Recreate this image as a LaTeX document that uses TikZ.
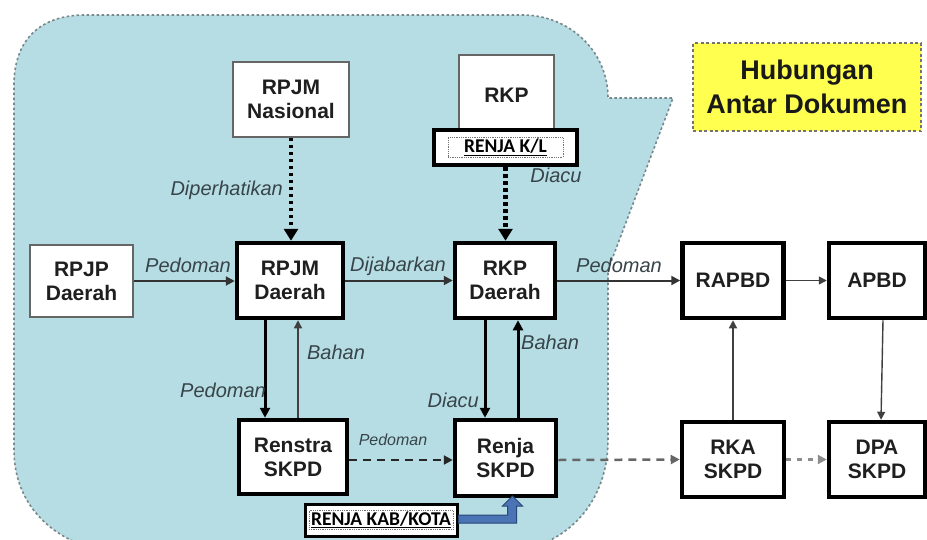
\documentclass[tikz,border=0pt]{standalone}
\usepackage{fontspec}
\setmainfont{Liberation Sans}
\newfontfamily\calib{Carlito}
\usetikzlibrary{arrows.meta,calc}
\definecolor{regionblue}{RGB}{182,221,227}
\definecolor{regionedge}{RGB}{120,135,140}
\definecolor{labelgray}{RGB}{55,68,74}
\definecolor{hubyellow}{RGB}{255,255,80}
\definecolor{arrowblue}{RGB}{74,116,180}
\definecolor{arrowblueedge}{RGB}{40,70,120}
\tikzset{
  boxtext/.style={font=\bfseries\fontsize{21}{24}\selectfont, text=black!88, align=center, inner sep=0pt},
  thinbox/.style={boxtext, draw=black!60, line width=1.8pt, fill=white},
  thickbox/.style={boxtext, draw=black, line width=4.5pt, fill=white},
  lbl/.style={font=\itshape\fontsize{20}{24}\selectfont, text=labelgray, inner sep=0pt},
  solidarr/.style={draw=black!80, line width=2pt, -{Triangle[length=9pt,width=9pt]}},
  thinarr/.style={draw=black!75, line width=1.4pt, -{Triangle[length=8pt,width=8pt]}},
  heavyarr/.style={draw=black, line width=3pt, -{Triangle[length=10pt,width=10pt]}},
  dotarr/.style={draw=black, line width=4.5pt, dash pattern=on 3.5pt off 3.5pt, -{Triangle[length=12pt,width=14pt]}},
  renjabox/.style={draw=black, line width=4pt, fill=white, inner sep=0pt},
  renjatext/.style={font=\calib\bfseries\fontsize{19.5}{22}\selectfont, draw=black!55, densely dotted, line width=0.8pt, inner xsep=2pt, inner ysep=1.5pt}
}
\begin{document}
\begin{tikzpicture}[x=1pt,y=-1pt]
\useasboundingbox (0,0) rectangle (927,539);
\fill[white] (0,0) rectangle (927,539);
\begin{scope}
\clip (0,0) rectangle (927,539);
\filldraw[fill=regionblue, draw=regionedge, line width=1.6pt, dash pattern=on 2.5pt off 2.5pt]
  (14,450) -- (14,85) .. controls (14,40) and (40,15) .. (85,15) -- (523,15)
  .. controls (568,15) and (608,50) .. (608,98) -- (673,98) -- (608,270) -- (608,440)
  .. controls (608,500) and (570,545) .. (510,552) -- (110,552)
  .. controls (60,545) and (14,510) .. (14,450) -- cycle;
\end{scope}

% title
\node[draw=black!55, fill=hubyellow, line width=1.5pt, dash pattern=on 3pt off 2.5pt,
      minimum width=228pt, minimum height=88pt, inner sep=0pt, align=center,
      font=\bfseries\fontsize{27}{34}\selectfont, text=black!90] (hub) at (807,87) {Hubungan\\Antar Dokumen};

% top nodes
\node[thinbox, minimum width=116pt, minimum height=75pt] (rpjmn) at (291,99.5) {RPJM\\Nasional};
\node[thinbox, minimum width=95pt, minimum height=80pt] (rkp) at (506.5,95) {RKP};
\node[renjabox, minimum width=143pt, minimum height=35pt] (renjakl) at (505.5,147.5) {};
\node[renjatext, minimum width=115pt] (renjakltext) at (renjakl.center) {\underline{RENJA K/L}};

% middle row
\node[thinbox, minimum width=103pt, minimum height=72pt] (rpjp) at (81.5,281) {RPJP\\Daerah};
\node[thickbox, minimum width=106pt, minimum height=75pt] (rpjmd) at (290,280.5) {RPJM\\Daerah};
\node[thickbox, minimum width=100pt, minimum height=75pt] (rkpd) at (505,280.5) {RKP\\Daerah};
\node[thickbox, minimum width=101pt, minimum height=75pt] (rapbd) at (733,280.5) {RAPBD};
\node[thickbox, minimum width=96pt, minimum height=75pt] (apbd) at (877,280.5) {APBD};

% bottom row
\node[thickbox, minimum width=108pt, minimum height=74pt] (renstra) at (293,457) {Renstra\\SKPD};
\node[thickbox, minimum width=101pt, minimum height=76pt] (renja) at (505.5,458) {Renja\\SKPD};
\node[thickbox, minimum width=102pt, minimum height=75pt] (rka) at (733,459.5) {RKA\\SKPD};
\node[thickbox, minimum width=96pt, minimum height=75pt] (dpa) at (877,459.5) {DPA\\SKPD};

\node[renjabox, line width=3pt, minimum width=152pt, minimum height=32pt] (kab) at (381,520) {};
\node[renjatext, minimum width=126pt] (kabtext) at (kab.center) {\underline{RENJA KAB/KOTA}};

% dotted arrows
\draw[dotarr] (rpjmn.south) -- (rpjmn.south |- rpjmd.north);
\draw[dotarr] (renjakl.south) -- (renjakl.south |- rkpd.north);
\node[lbl, anchor=east] (l1) at (283,190) {Diperhatikan};
\node[lbl] (l2) at (556,175) {Diacu};

% horizontal solid arrows
\draw[solidarr] (rpjp.east) -- (rpjp.east -| rpjmd.west);
\draw[solidarr] (rpjmd.east) -- (rpjmd.east -| rkpd.west);
\draw[solidarr] (rkpd.east) -- (rkpd.east -| rapbd.west);
\draw[thinarr] (rapbd.east) -- (apbd.west);
\node[lbl] (l3) at (188,265) {Pedoman};
\node[lbl] (l4) at (398,266) {Dijabarkan};
\node[lbl] (l5) at (619,265) {Pedoman};

% vertical solid arrows
\draw[heavyarr] ([xshift=-25pt]rpjmd.south) -- ([xshift=-28pt]renstra.north);
\draw[thinarr] ([xshift=5pt]renstra.north) -- ([xshift=8pt]rpjmd.south);
\draw[heavyarr] ([xshift=-20pt]rkpd.south) -- ([xshift=-20.5pt]renja.north);
\draw[heavyarr] ([xshift=12.5pt]renja.north) -- ([xshift=13pt]rkpd.south);
\draw[thinarr] (rka.north) -- (rapbd.south);
\draw[thinarr] ([xshift=6pt]apbd.south) -- ([xshift=4pt]dpa.north);
\node[lbl, anchor=east] (l6) at (266,390) {Pedoman};
\node[lbl] (l7) at (336,352) {Bahan};
\node[lbl, anchor=east] (l8) at (479,400) {Diacu};
\node[lbl, anchor=west] (l9) at (521,342) {Bahan};

% dashed arrows
\draw[draw=black!85, line width=2.5pt, dash pattern=on 8pt off 6pt, -{Triangle[length=9pt,width=9pt]}]
  ([yshift=-3pt]renstra.east) -- ([yshift=-2pt]renja.west);
\node[lbl, font=\itshape\fontsize{16}{19}\selectfont] (l10) at (393,440) {Pedoman};
\draw[draw=black!60, line width=2.5pt, dash pattern=on 8pt off 6pt, -{Triangle[length=9pt,width=9pt]}]
  ([yshift=-2pt]renja.east) -- (rka.west);
\draw[draw=black!45, line width=2.5pt, dash pattern=on 5pt off 6pt, -{Triangle[length=9pt,width=9pt]}]
  (rka.east) -- (dpa.west);

% blue block arrow
\filldraw[fill=arrowblue, draw=arrowblueedge, line width=1pt]
  ($(kab.east)+(0,-5)$) -- ($(kab.east)+(49,-5)$) -- ($(kab.east)+(49,-14)$)
  -- ($(kab.east)+(44,-14)$) -- ($(kab.east)+(54,-24)$) -- ($(kab.east)+(64,-14)$)
  -- ($(kab.east)+(58,-14)$) -- ($(kab.east)+(58,3)$) -- ($(kab.east)+(0,3)$) -- cycle;
\end{tikzpicture}
\end{document}
